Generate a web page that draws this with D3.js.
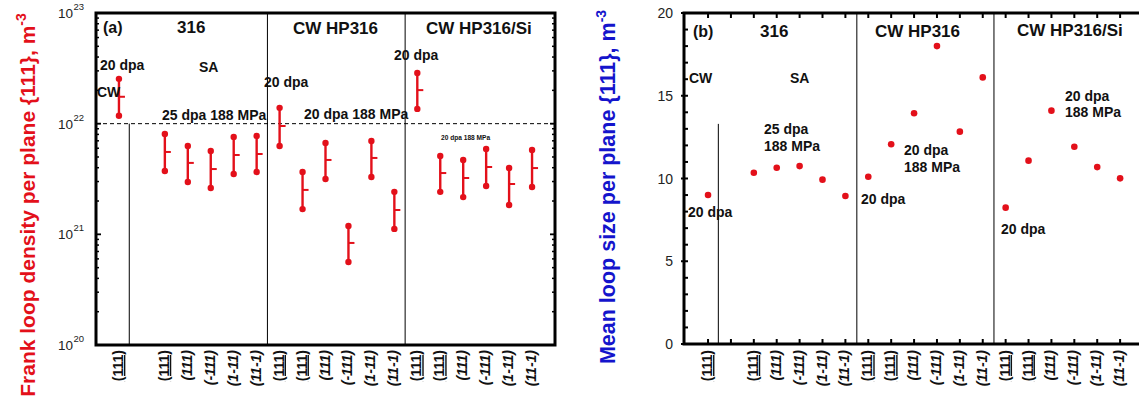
<!DOCTYPE html>
<html>
<head>
<meta charset="utf-8">
<script src="https://cdn.jsdelivr.net/npm/d3@7"></script>
<style>
  html, body { margin: 0; padding: 0; background: #fff; }
  svg { display: block; font-family: "Liberation Sans", Arial, sans-serif; }
</style>
</head>
<body>
<svg id="chart" width="1139" height="403"></svg>
<script>
// ---------- data ----------
const slots = d3.range(19);
const xLabels = ["(111)", "", "(111)", "(111)", "(-111)", "(1-11)", "(11-1)",
                 "(111)", "(111)", "(111)", "(-111)", "(1-11)", "(11-1)",
                 "(111)", "(111)", "(111)", "(-111)", "(1-11)", "(11-1)"];
const labelUnderlined = [1, 0, 1, 0, 0, 0, 0, 1, 1, 0, 0, 0, 0, 1, 1, 0, 0, 0, 0];
const densityHigh = [2.54e22, null, 8.07e21, 6.28e21, 5.66e21, 7.59e21, 7.75e21,
                     1.39e22, 3.66e21, 6.68e21, 1.19e21, 6.97e21, 2.42e21,
                     2.87e22, 5.11e21, 4.70e21, 5.90e21, 3.97e21, 5.78e21];
const densityMean = [1.75e22, null, 5.55e21, 4.42e21, 3.89e21, 5.21e21, 5.32e21,
                     9.53e21, 2.52e21, 4.70e21, 8.36e20, 4.90e21, 1.66e21,
                     2.01e22, 3.58e21, 3.23e21, 4.06e21, 2.85e21, 3.97e21];
const densityLow  = [1.18e22, null, 3.73e21, 2.97e21, 2.62e21, 3.51e21, 3.66e21,
                     6.28e21, 1.69e21, 3.16e21, 5.62e20, 3.30e21, 1.12e21,
                     1.36e22, 2.42e21, 2.17e21, 2.73e21, 1.84e21, 2.68e21];
const loopSize = [9.0, null, 10.35, 10.65, 10.75, 9.93, 8.94,
                  10.11, 12.07, 13.94, 18.0, 12.83, 16.11,
                  8.24, 11.08, 14.1, 11.92, 10.69, 10.01];
const groupDividers = [0.45, 6.47, 12.47];
const densityDecades = [20, 21, 22, 23];
const sizeTicks = [0, 5, 10, 15, 20];

const RED = "#e3101a";
const BLUE = "#1414cc";
const svg = d3.select("#chart");

function addText(g, t, x, yc, size, opts = {}) {
  const el = g.append("text")
    .attr("x", x).attr("y", yc + size * 0.36)
    .attr("font-size", size)
    .attr("font-weight", opts.weight || "bold")
    .attr("fill", opts.fill || "#111")
    .text(t);
  return el;
}

function xAxisLabels(g, x, yTop) {
  slots.forEach(i => {
    if (!xLabels[i]) return;
    const px = x(i) + 4;
    g.append("text")
      .attr("transform", `translate(${px},${yTop}) rotate(-90)`)
      .attr("text-anchor", "end")
      .attr("font-size", 14)
      .attr("font-weight", "bold")
      .attr("font-style", labelUnderlined[i] ? "normal" : "italic")
      .attr("text-decoration", labelUnderlined[i] ? "underline" : "none")
      .attr("fill", "#111")
      .text(xLabels[i]);
  });
}

// ---------- panel (a) ----------
{
  const L = 96, R = 555, T = 13, B = 345;
  const x = d3.scaleLinear().domain([-1, 19]).range([L, R]);
  const y = d3.scaleLog().domain([1e20, 1e23]).range([B, T]);
  const g = svg.append("g");

  // dividers
  g.append("line").attr("x1", x(groupDividers[0])).attr("x2", x(groupDividers[0]))
    .attr("y1", y(1e22)).attr("y2", B).attr("stroke", "#000").attr("stroke-width", 1);
  groupDividers.slice(1).forEach(d => {
    g.append("line").attr("x1", x(d)).attr("x2", x(d))
      .attr("y1", T).attr("y2", B).attr("stroke", "#000").attr("stroke-width", 1);
  });
  // dashed reference line at 1e22
  g.append("line").attr("x1", L).attr("x2", R).attr("y1", y(1e22)).attr("y2", y(1e22))
    .attr("stroke", "#000").attr("stroke-width", 1).attr("stroke-dasharray", "4,3");

  // error bars
  const idx = slots.filter(i => densityMean[i] != null);
  g.selectAll(".eb").data(idx).enter().append("line")
    .attr("x1", i => x(i)).attr("x2", i => x(i))
    .attr("y1", i => y(densityLow[i])).attr("y2", i => y(densityHigh[i]))
    .attr("stroke", RED).attr("stroke-width", 2.4);
  g.selectAll(".mt").data(idx).enter().append("line")
    .attr("x1", i => x(i)).attr("x2", i => x(i) + 6)
    .attr("y1", i => y(densityMean[i])).attr("y2", i => y(densityMean[i]))
    .attr("stroke", RED).attr("stroke-width", 2);
  g.selectAll(".hi").data(idx).enter().append("circle")
    .attr("cx", i => x(i)).attr("cy", i => y(densityHigh[i])).attr("r", 3.2).attr("fill", RED);
  g.selectAll(".lo").data(idx).enter().append("circle")
    .attr("cx", i => x(i)).attr("cy", i => y(densityLow[i])).attr("r", 3.2).attr("fill", RED);

  // log ticks
  const minor = [];
  densityDecades.slice(0, -1).forEach(d => { for (let k = 2; k <= 9; k++) minor.push(k * Math.pow(10, d)); });
  minor.forEach(v => {
    g.append("line").attr("x1", L).attr("x2", L + 3).attr("y1", y(v)).attr("y2", y(v)).attr("stroke", "#000").attr("stroke-width", 1.5);
    g.append("line").attr("x1", R).attr("x2", R - 3).attr("y1", y(v)).attr("y2", y(v)).attr("stroke", "#000").attr("stroke-width", 1.5);
  });
  densityDecades.forEach(d => {
    const v = Math.pow(10, d);
    g.append("line").attr("x1", L).attr("x2", L + 5).attr("y1", y(v)).attr("y2", y(v)).attr("stroke", "#000").attr("stroke-width", 1.8);
    g.append("line").attr("x1", R).attr("x2", R - 5).attr("y1", y(v)).attr("y2", y(v)).attr("stroke", "#000").attr("stroke-width", 1.8);
    const t = g.append("text").attr("x", 73).attr("y", y(v) + 5).attr("text-anchor", "end")
      .attr("font-size", 13.5).attr("fill", "#222").text("10");
    g.append("text").attr("x", 73.5).attr("y", y(v) - 3).attr("font-size", 9.5).attr("fill", "#222").text(String(d));
  });

  // frame
  g.append("rect").attr("x", L).attr("y", T).attr("width", R - L).attr("height", B - T)
    .attr("fill", "none").attr("stroke", "#000").attr("stroke-width", 3);

  xAxisLabels(g, x, 350);

  // annotations
  addText(g, "(a)", 103, 27, 16);
  addText(g, "316", 177, 27, 17);
  addText(g, "CW HP316", 293, 28, 17);
  addText(g, "CW HP316/Si", 426, 28, 17);
  addText(g, "20 dpa", 100, 65, 14);
  addText(g, "CW", 97, 92, 14);
  addText(g, "SA", 199, 67, 14);
  addText(g, "25 dpa 188 MPa", 162, 115, 14);
  addText(g, "20 dpa", 264, 82, 14);
  addText(g, "20 dpa 188 MPa", 304, 114, 14);
  addText(g, "20 dpa", 394, 55, 14);
  addText(g, "20 dpa 188 MPa", 441, 138, 6.6);

  // y label
  const yl = g.append("text")
    .attr("transform", `translate(35,205) rotate(-90)`)
    .attr("text-anchor", "middle").attr("font-size", 21).attr("font-weight", "bold").attr("fill", RED);
  yl.append("tspan").text("Frank loop density per plane {111}, m");
  yl.append("tspan").attr("dy", -9).attr("font-size", 14).text("-3");
}

// ---------- panel (b) ----------
{
  const L = 684, R = 1143, T = 13, B = 344;
  const x = d3.scaleLinear().domain([-1.05, 19]).range([L, R]);
  const y = d3.scaleLinear().domain([0, 20]).range([B, T]);
  const g = svg.append("g");

  g.append("line").attr("x1", x(groupDividers[0])).attr("x2", x(groupDividers[0]))
    .attr("y1", y(13.3)).attr("y2", B).attr("stroke", "#000").attr("stroke-width", 1);
  [6.5, 12.49].forEach(d => {
    g.append("line").attr("x1", x(d)).attr("x2", x(d))
      .attr("y1", T).attr("y2", B).attr("stroke", "#000").attr("stroke-width", 1);
  });

  const idx = slots.filter(i => loopSize[i] != null);
  g.selectAll(".pt").data(idx).enter().append("circle")
    .attr("cx", i => x(i)).attr("cy", i => y(loopSize[i])).attr("r", 3.3).attr("fill", RED);

  // y ticks
  d3.range(0, 21).forEach(v => {
    g.append("line").attr("x1", L - (v % 5 === 0 ? 3 : 1)).attr("x2", L + 4)
      .attr("y1", y(v)).attr("y2", y(v)).attr("stroke", "#000").attr("stroke-width", 2);
  });
  sizeTicks.forEach(v => {
    g.append("text").attr("x", 673).attr("y", y(v) + 5).attr("text-anchor", "end")
      .attr("font-size", 14).attr("fill", "#222").text(v);
  });
  // x ticks top and bottom
  slots.forEach(i => {
    g.append("line").attr("x1", x(i)).attr("x2", x(i)).attr("y1", T).attr("y2", T + 5)
      .attr("stroke", "#000").attr("stroke-width", 2);
    g.append("line").attr("x1", x(i)).attr("x2", x(i)).attr("y1", B).attr("y2", B - 5)
      .attr("stroke", "#000").attr("stroke-width", 2);
  });

  g.append("rect").attr("x", L).attr("y", T).attr("width", R - L).attr("height", B - T)
    .attr("fill", "none").attr("stroke", "#000").attr("stroke-width", 3);

  xAxisLabels(g, x, 350);

  addText(g, "(b)", 693, 31, 16);
  addText(g, "316", 760, 31, 17);
  addText(g, "CW HP316", 875, 31, 17);
  addText(g, "CW HP316/Si", 1017, 30, 17);
  addText(g, "CW", 689, 78, 14);
  addText(g, "SA", 790, 78, 14);
  addText(g, "25 dpa", 764, 129, 14);
  addText(g, "188 MPa", 764, 146, 14);
  addText(g, "20 dpa", 688, 212, 14);
  addText(g, "20 dpa", 861, 199, 14);
  addText(g, "20 dpa", 904, 150, 14);
  addText(g, "188 MPa", 904, 167, 14);
  addText(g, "20 dpa", 1065, 96, 14);
  addText(g, "188 MPa", 1065, 112, 14);
  addText(g, "20 dpa", 1001, 229, 14);

  const yl = g.append("text")
    .attr("transform", `translate(615,187) rotate(-90)`)
    .attr("text-anchor", "middle").attr("font-size", 21.5).attr("font-weight", "bold").attr("fill", BLUE);
  yl.append("tspan").text("Mean loop size per plane {111}, m");
  yl.append("tspan").attr("dy", -9).attr("font-size", 14).text("-3");
}
</script>
</body>
</html>
